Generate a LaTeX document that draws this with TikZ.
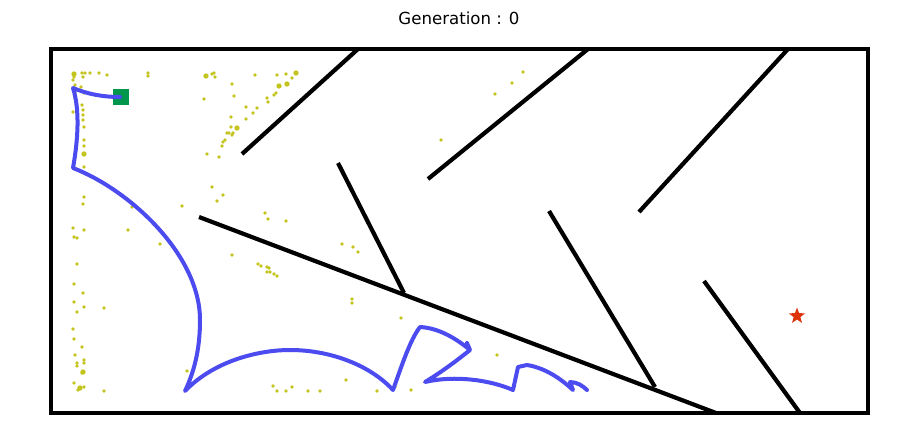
\documentclass[tikz,border=0pt]{standalone}
\usepackage{fontspec}
\setmainfont{DejaVu Sans}
\usetikzlibrary{shapes.geometric}
\definecolor{trailblue}{RGB}{75,75,240}
\definecolor{seedyel}{RGB}{196,196,30}
\definecolor{startgrn}{RGB}{0,150,75}
\definecolor{goalred}{RGB}{222,52,12}
\tikzset{
  wall/.style={draw=black,line width=4.2pt},
  trail/.style={draw=trailblue,line width=4pt,line join=round,line cap=round},
  seed/.style={fill=seedyel},
  startbox/.style={fill=startgrn,minimum size=16pt,inner sep=0pt},
  goalstar/.style={star,star points=5,star point ratio=2.4,fill=goalred,minimum size=17pt,inner sep=0pt},
  ttl/.style={font=\fontsize{16.6}{20}\selectfont},
}
\begin{document}
\begin{tikzpicture}[x=1pt,y=-1pt]
\useasboundingbox (0,0) rectangle (919,442);
\node[ttl] (title) at (459,18) {Generation : 0};
% samples
\foreach \px/\py in {74/77,73/80,82/73,85/73,90/73,83/77,99/73,107/75,148/73,148/76,75/85,81/87,75/93,84/93,75/98,
  82/105,83/110,73/112,83/115,83/120,84/127,84/140,84/146,84/167,84/197,83/204,73/228,84/230,128/230,74/237,77/238,
  77/264,74/284,83/293,74/302,84/307,77/312,104/308,73/329,74/339,82/347,75/355,84/360,84/363,77/363,77/366,82/373,
  74/383,84/387,78/390,104/391,212/74,214/73,215/77,255/75,277/75,286/74,292/78,276/93,274/95,267/98,268/102,257/108,
  253/113,246/107,246/119,232/84,234/96,204/99,231/117,231/127,233/133,229/133,227/133,232/135,225/140,223/142,222/146,
  207/154,219/157,212/187,223/195,217/201,182/206,132/207,160/244,265/213,268/219,286/221,232/255,258/264,261/266,
  267/267,269/268,267/272,270/272,274/274,277/276,342/244,353/247,358/252,352/299,352/303,401/318,346/380,187/371,
  273/386,277/391,286/391,292/387,308/391,320/391,377/391,395/387,411/390,497/355,523/72,512/83,495/94,441/140}
  \fill[seed] (\px,\py) circle (1.8);
\foreach \px/\py in {74/74,84/154,206/76,296/73,83/372,80/388,237/128,287/84,279/86}
  \fill[seed] (\px,\py) circle (2.7);
% maze
\draw[wall] (51,49) rectangle (868,413);
\draw[wall] (358,49) -- (242,154);
\draw[wall] (588,49) -- (428,179);
\draw[wall] (788,49) -- (639,212);
\draw[wall] (338,163) -- (404,293);
\draw[wall] (199,217) -- (716,413);
\draw[wall] (549,211) -- (655,387);
\draw[wall] (704,281) -- (800,413);
% agent
\node[startbox] (start) at (121,97) {};
\draw[trail] (120,97) .. controls (100,97) and (85,93) .. (73,88)
  .. controls (80,110) and (78,140) .. (73,168)
  .. controls (130,190) and (200,255) .. (200,320)
  .. controls (200,350) and (194,372) .. (185,391)
  .. controls (215,360) and (260,350) .. (290,350)
  .. controls (330,350) and (370,365) .. (393,390)
  .. controls (402,365) and (410,340) .. (420,327)
  .. controls (440,328) and (458,340) .. (470,350)
  -- (467,343) -- (470,350)
  .. controls (455,362) and (440,373) .. (425,382)
  .. controls (455,375) and (490,380) .. (513,390)
  -- (518,367) -- (527,365)
  .. controls (545,368) and (560,378) .. (573,390)
  -- (570,382) .. controls (577,382) and (583,386) .. (587,390);
\node[goalstar] (goal) at (797,316) {};
\end{tikzpicture}
\end{document}
